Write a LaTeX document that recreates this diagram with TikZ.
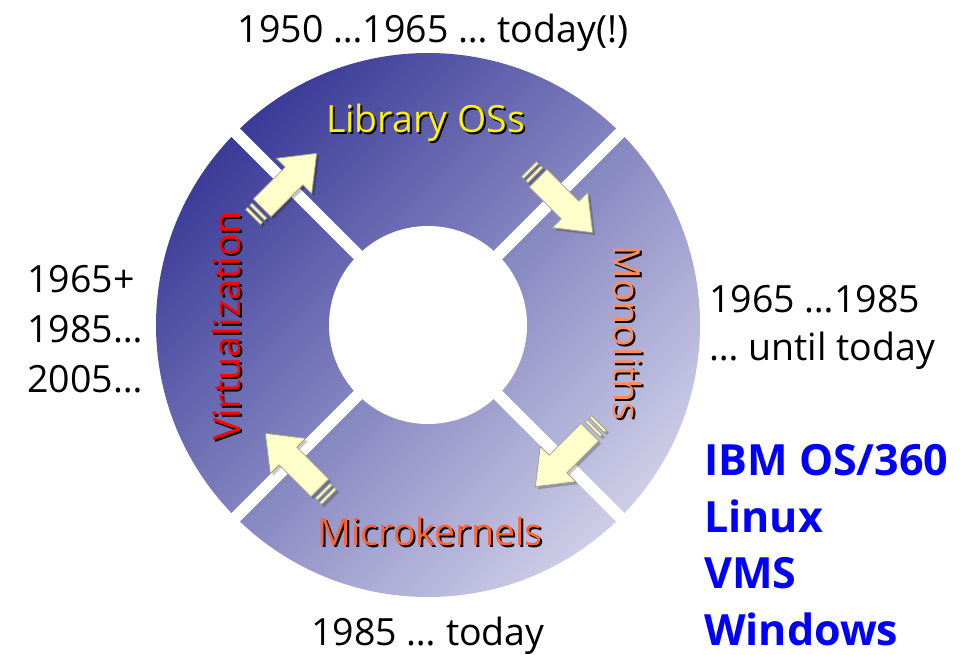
\documentclass[tikz,border=0pt]{standalone}
\usepackage{fontspec}
\setmainfont{Open Sans}

\definecolor{ringdark}{RGB}{58,58,152}
\definecolor{ringmid}{RGB}{122,122,186}
\definecolor{ringlight}{RGB}{206,206,232}
\definecolor{arrowfill}{RGB}{255,255,204}
\definecolor{arrowline}{RGB}{165,165,125}
\definecolor{monocol}{RGB}{255,140,90}
\definecolor{microcol}{RGB}{255,100,50}
\definecolor{osblue}{RGB}{0,0,255}

\tikzset{
  lbl/.style={font=\fontsize{37.5}{45}\selectfont, inner sep=0pt},
  yrs/.style={lbl, text=black},
  osname/.style={font=\bfseries\fontsize{43}{51}\selectfont, text=osblue,
                 inner sep=0pt, anchor=base west},
  gap/.style={white, line width=12pt},
  arrowbody/.style={fill=arrowfill, draw=arrowline, line width=0.8pt, line join=miter},
  arrowshadow/.style={fill=black, opacity=0.22},
}

% block arrow with two tail stripes, tail at the origin, pointing along +x
\newcommand\arrowshape[1]{%
  \path[#1] (0,-10.5) rectangle (3,10.5) (6,-10.5) rectangle (9,10.5)
    (13,-12.5) -- (58,-12.5) -- (58,-25) -- (90,0) -- (58,25) -- (58,12.5)
    -- (13,12.5) -- cycle;}

% #1 tail x, #2 tail y, #3 direction
\newcommand\cyclearrow[3]{%
  \begin{scope}[shift={(#1+2.5,#2+2.5)}, rotate=#3]
    \arrowshape{arrowshadow}
  \end{scope}
  \begin{scope}[shift={(#1,#2)}, rotate=#3]
    \arrowshape{arrowbody}
  \end{scope}}

% label inside the ring with a dark drop shadow
% #1 name, #2 x, #3 y, #4 rotation, #5 colour, #6 text
\newcommand\ringlabel[6]{%
  \node[lbl, text=black, anchor=base, rotate=#4] (#1-shadow) at (#2+2,#3+2) {#6};
  \node[lbl, text=#5, anchor=base, rotate=#4] (#1) at (#2,#3) {#6};}

\begin{document}
\begin{tikzpicture}[x=1pt,y=-1pt]
\useasboundingbox (0,0) rectangle (975,654);

% shaded ring, dark at the top left and light at the bottom right
\coordinate (c) at (428,325);
\begin{scope}
  \clip (c) circle (272pt);
  \shade[transform canvas={rotate around={-45:(c)}}, left color=ringdark,
         middle color=ringmid, right color=ringlight] (156,53) rectangle (700,597);
\end{scope}
\fill[white] (c) circle (99pt);

% gaps between the four segments
\draw[gap] (228,125) -- (628,525);
\draw[gap] (628,125) -- (228,525);

% arrows running clockwise round the cycle
\cyclearrow{253}{217}{45}
\cyclearrow{529}{169}{-45}
\cyclearrow{599}{423}{-135}
\cyclearrow{329}{497}{135}

% segment names
\ringlabel{lib}{425.5}{132}{0}{yellow}{Library OSs}
\ringlabel{mono}{613}{333}{-90}{monocol}{Monoliths}
\ringlabel{micro}{430}{545}{0}{microcol}{Microkernels}
\ringlabel{virt}{240}{326}{90}{red}{Virtualization}

% time spans
\node[yrs, anchor=base] (libtime) at (433,42) {1950 …1965 … today(!)};
\node[yrs, anchor=base west] (virttime1) at (27,292) {1965+};
\node[yrs, anchor=base west] (virttime2) at (27,342) {1985…};
\node[yrs, anchor=base west] (virttime3) at (27,392) {2005…};
\node[yrs, anchor=base west] (monotime1) at (709,312) {1965 …1985};
\node[yrs, anchor=base west] (monotime2) at (709,360) {… until today};
\node[yrs, anchor=base] (microtime) at (428,645) {1985 … today};

% monolithic systems
\node[osname] (os1) at (704,475) {IBM OS/360};
\node[osname] (os2) at (704,532) {Linux};
\node[osname] (os3) at (704,588) {VMS};
\node[osname] (os4) at (704,645) {Windows};
\end{tikzpicture}
\end{document}
